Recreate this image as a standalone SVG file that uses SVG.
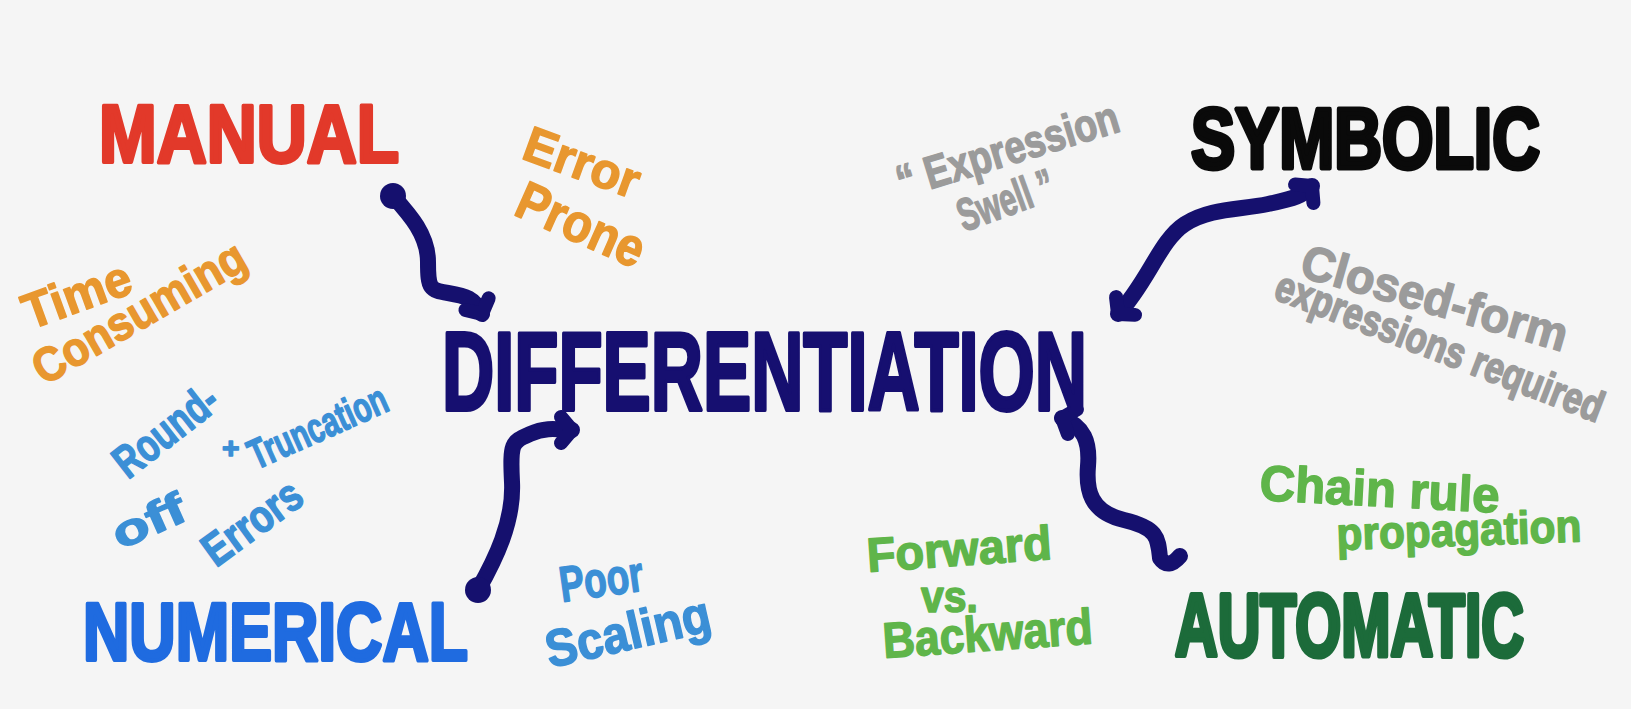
<svg xmlns="http://www.w3.org/2000/svg" width="1631" height="709" viewBox="0 0 1631 709">
<defs>
<style>
.title{font-family:"Liberation Sans Narrow","Liberation Sans",Arial,sans-serif;font-weight:bold;stroke-linejoin:round;stroke-width:4}
.note{font-family:"Liberation Sans","DejaVu Sans",sans-serif;font-weight:bold;stroke-linejoin:round;stroke-width:1.5}
.orange{fill:#e8972f;stroke:#e8972f}
.lblue{fill:#3b8fd6;stroke:#3b8fd6}
.gray{fill:#9b9b9b;stroke:#9b9b9b}
.green{fill:#5fb54a;stroke:#5fb54a}
.conn{fill:none;stroke:#15106e;stroke-width:16;stroke-linecap:round;stroke-linejoin:round}
</style>
<marker id="arr" viewBox="-24 -24 48 48" refX="0" refY="0" markerWidth="48" markerHeight="48" markerUnits="userSpaceOnUse" orient="auto-start-reverse">
<path d="M -11 -13 L 0 0 L -11 13" fill="none" stroke="#15106e" stroke-width="14" stroke-linecap="round" stroke-linejoin="round"/>
</marker>
<marker id="dot" viewBox="-20 -20 40 40" refX="0" refY="0" markerWidth="40" markerHeight="40" markerUnits="userSpaceOnUse">
<circle r="13" fill="#15106e"/>
</marker>
</defs>
<rect width="1631" height="709" fill="#f5f5f5"/>

<g id="connectors">
<path class="conn" d="M 393 196 C 410 215, 428 235, 428 262 S 430 290, 448 293 S 474 298, 482 314" marker-start="url(#dot)" marker-end="url(#arr)"/>
<path class="conn" d="M 1118 314 C 1148 282, 1160 240, 1185 224 S 1240 210, 1268 204 S 1302 196, 1312 186" marker-start="url(#arr)" marker-end="url(#arr)"/>
<path class="conn" d="M 478 590 C 495 560, 514 522, 512 482 S 512 442, 530 434 S 560 430, 572 430" marker-start="url(#dot)" marker-end="url(#arr)"/>
<path class="conn" d="M 1062 418 C 1084 426, 1090 442, 1088 466 S 1090 512, 1124 520 S 1158 538, 1160 558 Q 1168 570 1180 556" marker-start="url(#arr)"/>
</g>

<g id="differentiation">
<text class="title" x="442" y="410" font-size="112" textLength="645" lengthAdjust="spacingAndGlyphs" fill="#160f70" stroke="#160f70">DIFFERENTIATION</text>
</g>

<g id="manual">
<text class="title" x="99" y="162" font-size="82" textLength="300" lengthAdjust="spacingAndGlyphs" fill="#e2392a" stroke="#e2392a">MANUAL</text>
</g>
<g id="error-prone">
<text class="note orange" font-size="50" transform="translate(520,158) rotate(20)" textLength="120" lengthAdjust="spacingAndGlyphs">Error</text>
<text class="note orange" font-size="54" transform="translate(512,214) rotate(24)" textLength="135" lengthAdjust="spacingAndGlyphs">Prone</text>
</g>
<g id="time-consuming">
<text class="note orange" font-size="50" transform="translate(30,330) rotate(-20)" textLength="112" lengthAdjust="spacingAndGlyphs">Time</text>
<text class="note orange" font-size="48" transform="translate(44,386) rotate(-30)" textLength="238" lengthAdjust="spacingAndGlyphs">Consuming</text>
</g>

<g id="numerical">
<text class="title" x="83" y="660" font-size="82" textLength="385" lengthAdjust="spacingAndGlyphs" fill="#1f6be0" stroke="#1f6be0">NUMERICAL</text>
</g>
<g id="roundoff-errors">
<text class="note lblue" font-size="46" transform="translate(128,480) rotate(-38)" textLength="120" lengthAdjust="spacingAndGlyphs">Round-</text>
<text class="note lblue" font-size="44" transform="translate(120,550) rotate(-24)" textLength="76" lengthAdjust="spacingAndGlyphs">off</text>
<text class="note lblue" font-size="30" x="222" y="458">+</text>
<text class="note lblue" font-size="42" transform="translate(256,470) rotate(-24)" textLength="148" lengthAdjust="spacingAndGlyphs">Truncation</text>
<text class="note lblue" font-size="46" transform="translate(216,568) rotate(-36)" textLength="112" lengthAdjust="spacingAndGlyphs">Errors</text>
</g>
<g id="poor-scaling">
<text class="note lblue" font-size="50" transform="translate(562,602) rotate(-8)" textLength="84" lengthAdjust="spacingAndGlyphs">Poor</text>
<text class="note lblue" font-size="52" transform="translate(550,668) rotate(-13)" textLength="168" lengthAdjust="spacingAndGlyphs">Scaling</text>
</g>

<g id="symbolic">
<text class="title" transform="translate(1191,168) scale(1,1.23)" font-size="70" textLength="349" lengthAdjust="spacingAndGlyphs" fill="#0a0a0a" stroke="#0a0a0a">SYMBOLIC</text>
</g>
<g id="expression-swell">
<text class="note gray" font-size="46" transform="translate(902,198) rotate(-17)" textLength="230" lengthAdjust="spacingAndGlyphs">“ Expression</text>
<text class="note gray" font-size="46" transform="translate(964,232) rotate(-20)" textLength="100" lengthAdjust="spacingAndGlyphs">Swell ”</text>
</g>
<g id="closed-form">
<text class="note gray" font-size="48" transform="translate(1298,276) rotate(16)" textLength="275" lengthAdjust="spacingAndGlyphs">Closed-form</text>
<text class="note gray" font-size="34" transform="translate(1272,298) rotate(21) scale(1,1.28)" textLength="348" lengthAdjust="spacingAndGlyphs">expressions required</text>
</g>

<g id="automatic">
<text class="title" transform="translate(1175,656) scale(1,1.3)" font-size="68" textLength="349" lengthAdjust="spacingAndGlyphs" fill="#1c6b3a" stroke="#1c6b3a">AUTOMATIC</text>
</g>
<g id="chain-rule">
<text class="note green" font-size="50" transform="translate(1259,500) rotate(3)" textLength="240" lengthAdjust="spacingAndGlyphs">Chain rule</text>
<text class="note green" font-size="46" transform="translate(1337,550) rotate(-2)" textLength="245" lengthAdjust="spacingAndGlyphs">propagation</text>
</g>
<g id="forward-backward">
<text class="note green" font-size="48" transform="translate(868,572) rotate(-4)" textLength="185" lengthAdjust="spacingAndGlyphs">Forward</text>
<text class="note green" font-size="44" x="921" y="612" textLength="57" lengthAdjust="spacingAndGlyphs">vs.</text>
<text class="note green" font-size="50" transform="translate(884,658) rotate(-4)" textLength="210" lengthAdjust="spacingAndGlyphs">Backward</text>
</g>
</svg>
